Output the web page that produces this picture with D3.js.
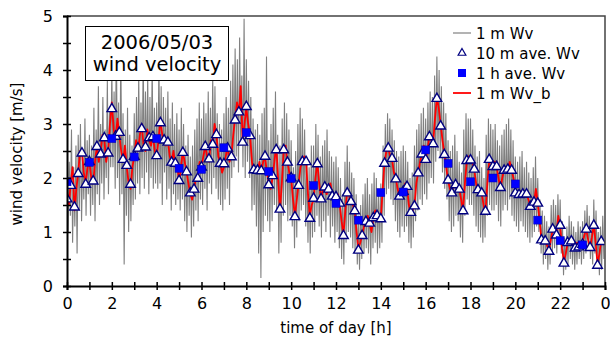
<!DOCTYPE html>
<html>
<head>
<meta charset="utf-8">
<script src="https://cdn.jsdelivr.net/npm/d3@7"></script>
<style>
  body { margin: 0; background: #fff; }
  svg { display: block; font-family: "DejaVu Sans", sans-serif; }
</style>
</head>
<body>
<div id="chart"></div>
<script>
// 1 m Wv, one row per hour, read every 3 min
var wv1m = [
  2.6,1.0,2.3,1.3,2.9,0.8,2.2,1.1,2.6,0.6,2.8,1.4,3.0,1.2,2.4,1.6,3.1,1.3,2.7,1.7,
  2.8,1.3,2.6,1.5,3.3,1.2,2.9,1.7,3.7,1.5,3.0,1.9,3.5,1.6,2.9,2.0,3.8,1.7,3.3,2.2,
  4.0,2.2,3.6,1.8,4.6,2.0,3.4,1.5,4.4,1.7,3.2,0.4,2.9,1.3,3.3,1.0,2.8,1.2,2.6,1.5,
  3.2,1.6,3.5,1.9,3.9,1.7,3.4,2.0,4.3,1.8,3.6,2.1,3.9,1.7,3.5,2.0,4.1,1.8,3.3,1.9,
  3.4,1.8,4.2,1.9,3.7,1.5,3.5,2.1,3.3,1.6,3.6,1.8,3.1,1.4,3.4,1.7,3.0,1.5,3.2,1.6,
  2.9,1.4,3.3,1.6,3.0,1.2,2.6,1.0,2.8,1.3,2.4,0.9,2.6,1.1,2.9,1.4,3.1,1.2,3.4,1.6,
  3.1,1.5,3.4,1.8,3.2,1.4,3.6,1.9,3.3,1.7,3.9,2.0,3.7,1.8,3.2,1.6,3.0,1.5,2.9,1.4,
  3.2,1.6,3.5,1.8,3.3,1.5,3.8,2.0,4.1,2.2,4.4,2.4,4.2,2.1,4.6,2.6,3.9,2.2,4.95,2.0,
  4.2,2.3,3.8,2.0,3.5,1.4,3.1,1.5,2.9,1.1,3.0,0.6,2.8,0.15,3.2,1.0,3.3,1.3,4.25,1.2,
  2.7,1.0,3.0,1.2,3.3,1.5,3.6,1.4,2.8,0.6,2.6,0.8,3.1,1.3,3.4,1.5,3.2,1.2,2.9,1.3,
  2.7,1.1,2.2,0.7,2.5,0.9,3.0,1.2,3.3,1.4,3.1,1.5,2.9,1.1,2.4,0.8,2.2,0.6,2.6,0.9,
  2.6,1.0,3.0,1.3,2.8,1.1,2.4,0.9,2.6,1.2,2.7,1.0,2.9,1.3,2.5,0.9,2.4,1.1,2.3,0.8,
  2.4,1.0,2.2,0.7,2.0,0.5,1.7,0.4,2.3,0.8,2.6,1.0,2.3,0.9,2.1,0.7,2.0,0.6,1.7,0.4,
  1.3,0.3,1.5,0.5,1.7,0.6,1.9,0.7,2.0,0.6,1.7,0.4,1.9,0.7,2.1,0.8,2.0,0.6,1.8,0.7,
  1.9,0.8,2.6,1.3,3.0,1.7,3.2,1.8,3.1,1.6,2.9,1.5,2.7,1.2,2.5,1.0,2.4,0.9,2.5,1.1,
  2.6,1.0,2.5,1.1,2.3,0.8,2.0,0.7,2.1,0.9,2.6,1.2,2.9,1.4,3.0,1.6,3.2,1.5,3.3,1.7,
  3.1,1.6,3.4,1.9,3.6,2.0,3.5,1.9,3.9,2.3,4.25,2.5,4.0,2.4,3.7,2.1,3.4,1.8,3.2,1.6,
  2.7,1.2,2.5,1.0,2.6,1.1,2.8,1.3,2.5,1.2,2.3,0.9,2.1,0.8,2.9,1.3,3.2,1.6,3.1,1.5,
  3.1,1.5,2.9,1.3,2.6,1.1,2.4,1.0,2.5,0.9,2.2,0.8,2.0,0.9,2.8,1.3,3.1,1.5,3.0,1.4,
  2.9,1.4,3.0,1.5,2.7,1.2,2.6,1.1,2.8,1.4,2.9,1.5,3.0,1.4,3.1,1.6,2.9,1.3,2.7,1.2,
  2.4,1.1,2.3,1.0,2.4,1.2,2.5,1.1,2.2,1.0,2.3,0.9,2.1,0.8,2.0,0.9,2.2,1.0,2.4,1.1,
  2.0,1.0,1.6,0.6,1.4,0.4,1.3,0.5,1.2,0.3,1.1,0.4,1.5,0.6,1.6,0.7,1.5,0.6,1.7,0.8,
  1.6,0.6,1.2,0.2,0.9,0.3,1.1,0.4,1.3,0.5,1.2,0.4,1.1,0.3,1.0,0.4,1.2,0.5,1.1,0.4,
  1.2,0.5,1.4,0.6,1.5,0.7,1.3,0.5,1.1,0.4,1.6,0.6,1.4,0.5,1.0,0.2,1.1,0.3,1.3,0.5
];

// 1 m Wv_b, every 5 min
var wv1mB = [
  1.75,1.5,1.9,2.2,1.4,1.8,2.1,2.5,2.5,2.1,1.9,2.2,
  2.3,2.0,1.9,2.3,2.6,2.3,2.5,2.8,2.7,2.3,2.5,3.0,
  3.4,2.9,2.7,3.1,2.8,2.5,2.3,2.6,2.2,1.9,1.8,2.2,
  2.4,2.7,2.5,2.8,3.0,2.6,2.5,2.9,2.7,2.6,2.8,2.5,
  2.4,2.7,3.1,2.8,2.7,2.6,2.7,2.4,2.3,2.5,2.2,2.3,
  1.9,2.2,2.5,2.3,2.1,1.9,1.7,1.6,1.8,2.0,2.0,2.3,
  2.2,2.4,2.6,2.4,2.3,2.7,2.6,3.0,2.8,2.4,2.3,2.1,
  2.2,2.4,2.6,2.3,2.4,2.8,3.1,3.4,3.2,3.7,2.7,3.0,
  3.3,3.0,2.8,2.3,2.1,2.2,2.1,2.3,2.1,2.3,2.4,2.1,
  1.9,1.8,2.0,2.3,2.6,2.0,1.4,1.9,2.5,2.6,2.3,2.1,
  2.0,1.6,1.3,1.6,1.9,2.2,2.3,2.4,2.3,1.7,1.3,1.5,
  1.6,2.0,2.3,1.9,1.6,1.8,1.85,1.7,1.8,1.9,1.7,1.6,
  1.65,1.7,1.5,1.2,0.95,1.4,1.75,1.7,1.55,1.5,1.4,1.0,
  0.7,0.8,0.95,1.1,1.2,1.3,1.15,1.0,1.25,1.4,1.3,1.2,
  1.25,1.8,2.3,2.5,2.55,2.4,2.35,2.1,2.0,1.8,1.65,1.8,
  1.75,1.9,1.85,1.5,1.35,1.4,1.5,1.9,2.1,2.3,2.45,2.6,
  2.35,2.5,2.8,2.7,2.65,3.1,3.5,3.3,3.0,2.7,2.45,2.2,
  1.95,1.8,1.7,1.9,1.85,1.9,1.8,1.6,1.4,1.9,2.3,2.4,
  2.35,2.3,2.15,1.9,1.75,1.8,1.7,1.5,1.35,1.9,2.3,2.3,
  2.2,2.3,2.2,2.0,1.8,2.0,2.15,2.2,2.15,2.3,2.15,2.0,
  1.75,1.7,1.7,1.75,1.7,1.65,1.7,1.6,1.5,1.5,1.55,1.8,
  1.55,1.2,0.85,0.8,0.85,0.75,0.65,0.85,1.05,1.0,0.95,1.3,
  1.1,0.7,0.45,0.6,0.8,0.85,0.85,0.75,0.7,0.8,0.75,0.8,
  0.8,0.95,1.05,0.85,0.7,0.9,1.15,0.8,0.4,0.6,0.85,0.8
];

// 10 m ave. Wv
var wv10m = [
  1.61,1.86,1.46,2.08,2.46,1.88,
  2.30,1.94,2.58,2.44,2.74,2.46,
  3.28,2.77,2.84,2.34,2.23,1.88,
  2.40,2.55,2.91,2.57,2.74,2.76,
  2.41,3.02,2.70,2.66,2.29,2.27,
  1.95,2.47,2.11,1.72,1.79,1.99,
  2.20,2.58,2.35,2.62,2.80,2.27,
  2.26,2.55,2.39,3.07,3.22,2.66,
  3.32,2.78,2.15,2.14,2.13,2.40,
  1.87,2.04,2.52,1.42,2.52,2.29,
  2.00,1.28,1.86,2.30,2.30,1.25,
  1.62,2.26,1.61,1.83,1.79,1.66,
  1.65,1.53,0.93,1.72,1.56,1.39,
  0.66,0.93,1.19,1.16,1.26,1.30,
  1.24,2.27,2.55,2.36,1.98,1.66,
  1.75,1.84,1.36,1.48,2.09,2.44,
  2.34,2.76,2.63,3.47,2.96,2.43,
  1.96,1.72,1.87,1.79,1.39,2.32,
  2.33,2.16,1.78,1.72,1.38,2.34,
  2.21,2.21,1.82,2.14,2.16,2.14,
  1.72,1.69,1.70,1.70,1.47,1.55,
  1.53,0.85,0.83,0.64,1.05,0.94,
  1.12,0.42,0.80,0.83,0.70,0.72,
  0.77,1.05,0.71,1.12,0.38,0.82
];

// 1 h ave. Wv
var wv1h = [1.93,2.29,2.73,2.39,2.73,2.18,2.16,2.56,2.84,2.12,1.99,1.86,
            1.53,1.22,1.73,1.74,2.52,2.27,1.93,2.00,1.89,1.22,0.84,0.76];

var xTicks = d3.range(0, 25, 1);
var yTicks = d3.range(0, 5.01, 0.5);
var legendLabels = ["1 m Wv", "10 m ave. Wv", "1 h ave. Wv", "1 m Wv_b"];
var titleLines = ["2006/05/03", "wind velocity"];

var W = 610, H = 338;
var margin = {top: 16, right: 5, bottom: 52, left: 67};
var width = W - margin.left - margin.right;
var height = H - margin.top - margin.bottom;

var svg = d3.select("#chart").append("svg")
  .attr("width", W)
  .attr("height", H);

var x = d3.scaleLinear().domain([0, 24]).range([margin.left, margin.left + width]);
var y = d3.scaleLinear().domain([0, 5]).range([margin.top + height, margin.top]);

svg.append("clipPath").attr("id", "plot")
  .append("rect")
  .attr("x", margin.left).attr("y", margin.top)
  .attr("width", width).attr("height", height);

var plot = svg.append("g").attr("clip-path", "url(#plot)");

// gray 1 min line
plot.append("path")
  .datum(wv1m)
  .attr("fill", "none")
  .attr("stroke", "#808080")
  .attr("stroke-width", 1.1)
  .attr("d", d3.line().x(function(d, i) { return x(i / 20); }).y(function(d) { return y(d); }));

// red
plot.append("path")
  .datum(wv1mB)
  .attr("fill", "none")
  .attr("stroke", "#ff0000")
  .attr("stroke-width", 1.8)
  .attr("stroke-linejoin", "round")
  .attr("d", d3.line().x(function(d, i) { return x(i / 12); }).y(function(d) { return y(d); }));

var tri = d3.symbol().type(d3.symbolTriangle).size(40);

plot.selectAll(".tri")
  .data(wv10m)
  .enter().append("path")
  .attr("class", "tri")
  .attr("d", tri)
  .attr("transform", function(d, i) { return "translate(" + x(i / 6) + "," + y(d) + ")"; })
  .attr("fill", "#fff")
  .attr("stroke", "#000080")
  .attr("stroke-width", 1.4);

plot.selectAll(".sq")
  .data(wv1h)
  .enter().append("rect")
  .attr("class", "sq")
  .attr("x", function(d, i) { return x(i) - 4; })
  .attr("y", function(d) { return y(d) - 4; })
  .attr("width", 8)
  .attr("height", 8)
  .attr("fill", "#0000ff")
  .attr("stroke", "#0000b0")
  .attr("stroke-width", 0.5);

// frame top / right
svg.append("path")
  .attr("d", "M" + margin.left + "," + margin.top + "H" + (margin.left + width) + "V" + (margin.top + height))
  .attr("fill", "none")
  .attr("stroke", "#444")
  .attr("stroke-width", 1.5);

// axes
var xAxis = d3.axisBottom(x)
  .tickValues(xTicks)
  .tickSize(4)
  .tickPadding(8)
  .tickFormat(function(d) { return d % 2 === 0 ? String(d % 24) : ""; });

var gx = svg.append("g")
  .attr("transform", "translate(0," + (margin.top + height) + ")")
  .call(xAxis);
gx.select(".domain").attr("stroke", "#000").attr("stroke-width", 2);
gx.selectAll(".tick line").attr("y1", -4).attr("y2", 4).attr("stroke-width", 1.5);
gx.selectAll(".tick text").attr("font-size", 16).attr("font-family", "DejaVu Sans").attr("fill", "#000");

var yAxis = d3.axisLeft(y)
  .tickValues(yTicks)
  .tickSize(4)
  .tickPadding(10)
  .tickFormat(function(d) { return d % 1 === 0 ? String(d) : ""; });

var gy = svg.append("g")
  .attr("transform", "translate(" + margin.left + ",0)")
  .call(yAxis);
gy.select(".domain").attr("stroke", "#000").attr("stroke-width", 2);
gy.selectAll(".tick line").attr("x1", -4).attr("x2", 4).attr("stroke-width", 1.5);
gy.selectAll(".tick text").attr("font-size", 16).attr("font-family", "DejaVu Sans").attr("fill", "#000");

// axis titles
svg.append("text")
  .attr("x", x(12))
  .attr("y", 333)
  .attr("text-anchor", "middle")
  .attr("font-size", 15)
  .text("time of day [h]");

svg.append("text")
  .attr("transform", "translate(22," + 154 + ") rotate(-90)")
  .attr("text-anchor", "middle")
  .attr("font-size", 15)
  .text("wind velocity [m/s]");

// title box
svg.append("rect")
  .attr("x", 85.5).attr("y", 26.5)
  .attr("width", 143).attr("height", 54)
  .attr("fill", "#fff")
  .attr("stroke", "#000")
  .attr("stroke-width", 1);

svg.selectAll(".ttl")
  .data(titleLines)
  .enter().append("text")
  .attr("class", "ttl")
  .attr("x", 157)
  .attr("y", function(d, i) { return 49 + i * 21.5; })
  .attr("text-anchor", "middle")
  .attr("font-size", 19.5)
  .text(function(d) { return d; });

// legend
var lg = svg.append("g").attr("transform", "translate(453,33)");
legendLabels.forEach(function(t, i) {
  var g = lg.append("g").attr("transform", "translate(0," + i * 20 + ")");
  if (i === 0 || i === 3) {
    g.append("line").attr("x1", 0).attr("x2", 18).attr("y1", 0).attr("y2", 0)
      .attr("stroke", i === 0 ? "#808080" : "#ff0000")
      .attr("stroke-width", i === 0 ? 1.2 : 1.8);
  } else if (i === 1) {
    g.append("path").attr("d", d3.symbol().type(d3.symbolTriangle).size(26))
      .attr("transform", "translate(9,0)")
      .attr("fill", "#fff").attr("stroke", "#000080").attr("stroke-width", 1.2);
  } else {
    g.append("rect").attr("x", 5).attr("y", -4).attr("width", 8).attr("height", 8)
      .attr("fill", "#0000ff");
  }
  g.append("text").attr("x", 23).attr("y", 5.5)
    .attr("font-size", 15)
    .text(t);
});
</script>
</body>
</html>
